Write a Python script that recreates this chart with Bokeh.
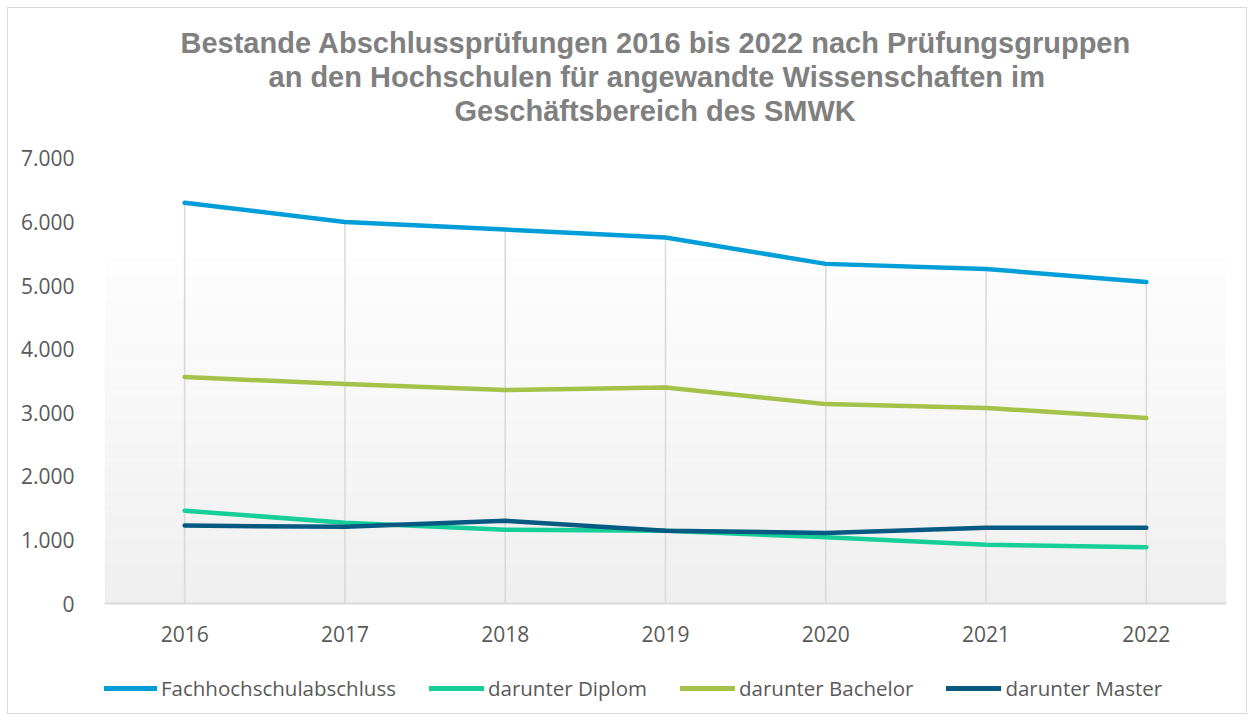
from bokeh.plotting import figure
from bokeh.layouts import column
from bokeh.models import (FactorRange, Range1d, FixedTicker, Legend, LegendItem,
                          BoxAnnotation, Title)
from bokeh.embed import file_html
from bokeh.resources import INLINE
import numpy as np

# ---------------- data ----------------
years = ["2016", "2017", "2018", "2019", "2020", "2021", "2022"]
fachhochschulabschluss = [6300, 6000, 5880, 5755, 5340, 5260, 5055]
diplom = [1460, 1270, 1160, 1145, 1040, 925, 885]
bachelor = [3560, 3450, 3355, 3395, 3135, 3075, 2915]
master = [1225, 1205, 1300, 1145, 1110, 1190, 1190]

series_names = ["Fachhochschulabschluss", "darunter Diplom", "darunter Bachelor", "darunter Master"]
series_values = [fachhochschulabschluss, diplom, bachelor, master]
series_colors = ["#009ed9", "#16cf98", "#a4c24a", "#065a82"]

y_ticks = [0, 1000, 2000, 3000, 4000, 5000, 6000, 7000]
y_tick_labels = ["0", "1.000", "2.000", "3.000", "4.000", "5.000", "6.000", "7.000"]

title_lines = ["Bestande Abschlussprüfungen 2016 bis 2022 nach Prüfungsgruppen",
               "an den Hochschulen für angewandte Wissenschaften im",
               "Geschäftsbereich des SMWK"]
title_offsets = [76, 164, 350]

# ---------------- main figure ----------------
CW = 1238            # canvas width
H_MAIN = 650
H_LEG = 55
FRAME_TOP = 118
FRAME_BOTTOM = 595

p = figure(width=CW, height=H_MAIN, x_range=FactorRange(*years), y_range=Range1d(0, 7500),
           output_backend="svg", toolbar_location=None,
           min_border_left=96, min_border_right=CW - 1218, min_border_top=FRAME_TOP,
           min_border_bottom=H_MAIN - FRAME_BOTTOM)
p.outline_line_color = None
p.background_fill_color = "white"
p.border_fill_color = "white"
p.xgrid.visible = False
p.ygrid.visible = False

# gradient plot-area fill (styling only)
grad_top = 5430
nb = 60
for i in range(nb):
    b = grad_top * i / nb
    t = grad_top * (i + 1) / nb + 2
    f = i / (nb - 1)
    c = int(round(0xef + (0xfd - 0xef) * f))
    col = "#%02x%02x%02x" % (c, c, c)
    p.add_layout(BoxAnnotation(bottom=b, top=min(t, grad_top), fill_color=col, fill_alpha=1,
                               line_alpha=0, level="underlay"))

# drop lines from highest series to the axis
drop_top = np.max(np.array(series_values), axis=0)
p.segment(x0=years, y0=[0] * len(years), x1=years, y1=list(drop_top),
          line_color="#d9d9d9", line_width=1.5)

for vals, col in zip(series_values, series_colors):
    p.line(x=years, y=vals, line_color=col, line_width=4.5, line_join="round", line_cap="round")

# axes
ax = p.xaxis[0]
ax.axis_line_color = "#d9d9d9"
ax.axis_line_width = 2
ax.major_tick_line_color = None
ax.minor_tick_line_color = None
ax.major_label_text_font = "Open Sans"
ax.major_label_text_font_size = "21px"
ax.major_label_text_color = "#595959"
ax.major_label_standoff = 16

ay = p.yaxis[0]
ay.ticker = FixedTicker(ticks=y_ticks)
ay.major_label_overrides = {t: l for t, l in zip(y_ticks, y_tick_labels)}
ay.axis_line_color = None
ay.major_tick_line_color = None
ay.minor_tick_line_color = None
ay.major_label_text_font = "Open Sans"
ay.major_label_text_font_size = "21px"
ay.major_label_text_color = "#595959"
ay.major_label_standoff = 24

# title: three lines, added from the innermost outward
for txt, off in reversed(list(zip(title_lines, title_offsets))):
    p.add_layout(Title(text=txt, align="left", offset=off, standoff=0,
                       text_font="Liberation Sans", text_font_style="bold",
                       text_font_size="29px", text_color="#808080"), "above")

# ---------------- legend strip ----------------
# the same series are drawn here outside the visible ranges; only the legend shows
pl = figure(width=CW, height=H_LEG, output_backend="svg", toolbar_location=None,
            x_range=FactorRange(*years), y_range=Range1d(-2, -1),
            x_axis_location=None, y_axis_location=None,
            min_border_left=0, min_border_right=0, min_border_top=0, min_border_bottom=0)
pl.outline_line_color = None
pl.grid.visible = False
pl.background_fill_color = "white"
pl.border_fill_color = "white"
items = []
for name, vals, col in zip(series_names, series_values, series_colors):
    r = pl.line(x=years, y=vals, line_color=col, line_width=5, line_cap="round")
    items.append(LegendItem(label=name, renderers=[r]))
legend = Legend(items=items, orientation="horizontal", location=(-2, 10),
                glyph_width=55, glyph_height=30, label_height=30, label_standoff=4, spacing=33,
                padding=0, margin=0, border_line_color=None, background_fill_alpha=0,
                label_text_font="Open Sans", label_text_font_size="20.5px",
                label_text_color="#595959")
pl.add_layout(legend, "center")

layout = column(p, pl, spacing=0)
layout.margin = (7, 0, 0, 7)
layout.styles = {"border": "1px solid #d9d9d9"}

open("out.html", "w").write(file_html(layout, INLINE))
